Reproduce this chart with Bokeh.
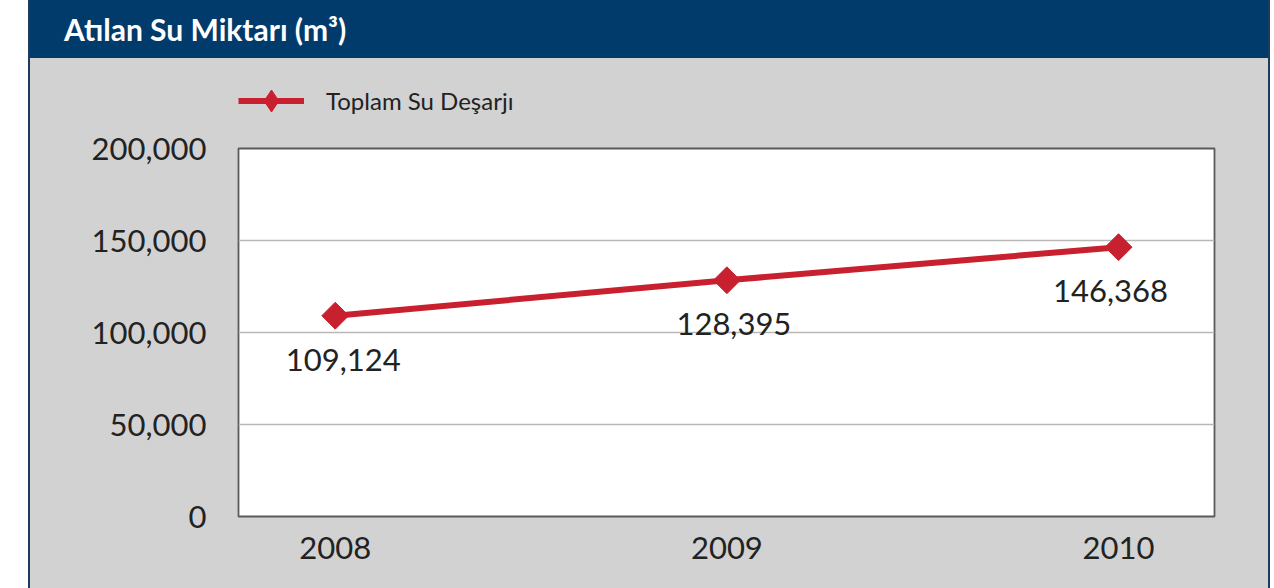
import numpy as np
from bokeh.plotting import figure
from bokeh.layouts import column
from bokeh.models import (Range1d, FixedTicker, NumeralTickFormatter, Legend, LegendItem,
                          ColumnDataSource, Div)
from bokeh.core.properties import value
from bokeh.embed import file_html
from bokeh.resources import INLINE

# ---- data ----
years = [2008, 2009, 2010]
discharge = [109124, 128395, 146368]
y_ticks = [0, 50000, 100000, 150000, 200000]
series_name = "Toplam Su Deşarjı"
title_text = "Atılan Su Miktarı (m³)"

BLUE = "#003b6c"
EDGE = "#1e3a5f"
GRAY = "#d2d2d2"
RED = "#c9202f"
FONT = "Lato"

W = 1238

src = ColumnDataSource(dict(x=years, y=discharge,
                            lbl=["{:,}".format(v) for v in discharge],
                            dx=[8, 7, -8]))

# ---- title bar ----
title_div = Div(
    text=('<div style="width:%dpx;height:58px;line-height:58px;padding-left:34px;margin:0;'
          'box-sizing:border-box;background:%s;color:white;font-family:Lato,sans-serif;'
          'font-weight:bold;font-size:30px;white-space:nowrap;overflow:hidden;">%s</div>')
         % (W, BLUE, title_text),
    width=W, height=58, margin=0,
    styles={"background-color": BLUE, "overflow": "hidden"})

# ---- legend strip (its renderers fall outside its 0..1 ranges, only the key shows) ----
lg = figure(width=W, height=70, x_range=Range1d(0, 1), y_range=Range1d(0, 1),
            output_backend="svg", toolbar_location=None,
            min_border_left=208, min_border_right=54, min_border_top=0, min_border_bottom=0,
            background_fill_color=GRAY, border_fill_color=GRAY, outline_line_color=None)
lg.xaxis.visible = False
lg.yaxis.visible = False
lg.grid.visible = False
key_line = lg.line("x", "y", source=src, line_color=RED, line_width=6)
key_mark = lg.scatter("x", "y", source=src, marker="diamond", fill_color=RED, line_color=RED)
lg.add_layout(Legend(items=[LegendItem(label=series_name, renderers=[key_line, key_mark])],
                     location=(0, 0), orientation="horizontal",
                     glyph_width=66, glyph_height=55, label_standoff=22,
                     label_text_font=FONT, label_text_font_size="24px",
                     label_text_color="#222222", label_height=55,
                     padding=0, margin=0, spacing=0,
                     background_fill_alpha=0, border_line_alpha=0))

# ---- main chart ----
p = figure(width=W, height=460, x_range=Range1d(2007.753, 2010.245), y_range=Range1d(0, 200000),
           output_backend="svg", toolbar_location=None,
           min_border_left=208, min_border_right=54, min_border_top=20, min_border_bottom=72,
           background_fill_color="white", border_fill_color=GRAY,
           outline_line_color="#5a5a5a", outline_line_width=1.8)

p.line("x", "y", source=src, line_color=RED, line_width=6)
p.scatter("x", "y", source=src, marker="square", size=19, angle=np.pi / 4,
          fill_color=RED, line_color=RED)
p.text("x", "y", text="lbl", source=src, x_offset="dx", y_offset=44,
       text_align="center", text_baseline="middle", text_font=value(FONT),
       text_font_size="31px", text_color="#222222")

p.yaxis.ticker = FixedTicker(ticks=y_ticks)
p.yaxis.formatter = NumeralTickFormatter(format="0,0")
p.xaxis.ticker = FixedTicker(ticks=years)
p.xaxis.formatter = NumeralTickFormatter(format="0")
for ax in (p.xaxis, p.yaxis):
    ax.axis_line_color = None
    ax.major_tick_line_color = None
    ax.minor_tick_line_color = None
    ax.major_label_text_font = FONT
    ax.major_label_text_font_size = "31px"
    ax.major_label_text_color = "#222222"
p.yaxis.major_label_standoff = 26
p.xaxis.major_label_standoff = 14

p.xgrid.grid_line_color = None
p.ygrid.ticker = FixedTicker(ticks=y_ticks)
p.ygrid.grid_line_color = "#b8b8b8"
p.ygrid.grid_line_width = 1.3

layout = column(title_div, lg, p, spacing=0,
                styles={"background-color": GRAY,
                        "border-left": "2px solid " + EDGE, "border-right": "2px solid " + EDGE,
                        "margin-left": "28px", "margin-top": "0px"})

open("out.html", "w").write(file_html(layout, INLINE))
